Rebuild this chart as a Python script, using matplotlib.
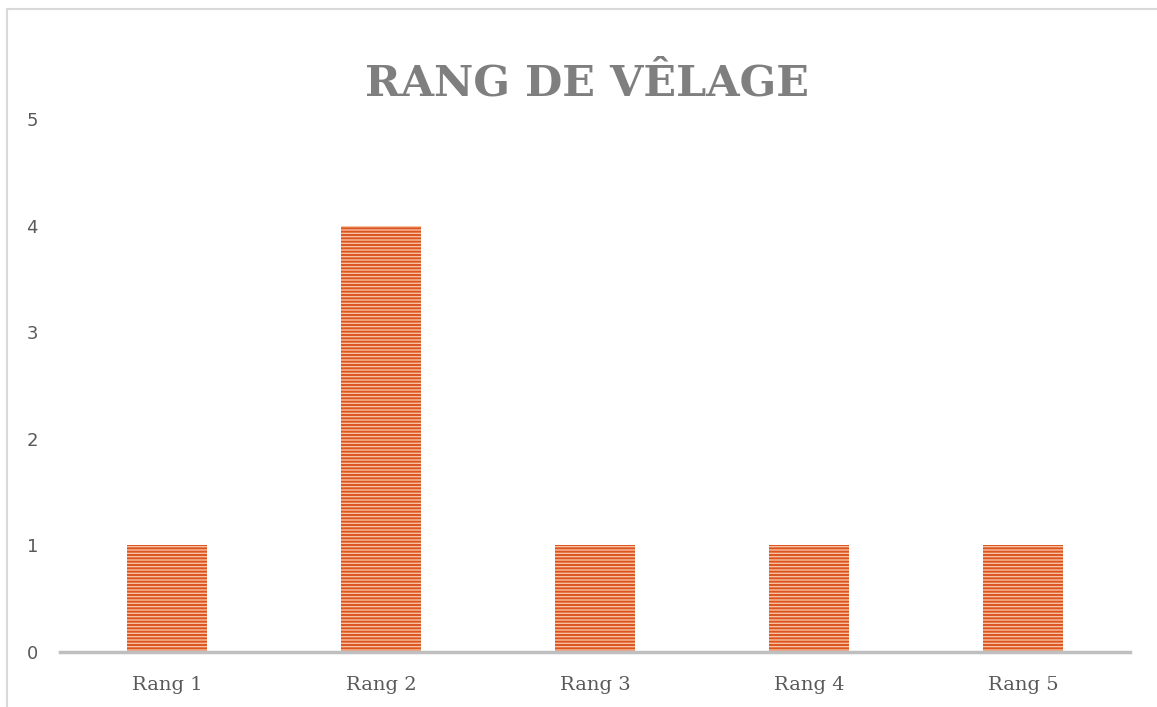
import matplotlib.pyplot as plt
from matplotlib.patches import Rectangle

categories = ['Rang 1', 'Rang 2', 'Rang 3', 'Rang 4', 'Rang 5']
values = [1, 4, 1, 1, 1]
yticks = [0, 1, 2, 3, 4, 5]

plt.rcParams['hatch.linewidth'] = 1.4

fig = plt.figure(figsize=(11.57, 7.07), dpi=100)
# frame of the chart area (light gray, left and top visible)
fig.patches.append(Rectangle((7 / 1157, -0.01), 1.1, 1 - 9 / 707 + 0.01,
                             transform=fig.transFigure, fill=False,
                             edgecolor='#d9d9d9', linewidth=1.5))

ax = fig.add_axes([60 / 1157, 55 / 707, 1070 / 1157, 533 / 707])
x = range(len(categories))
ax.bar(x, values, width=0.375, color='#f7c0a0', edgecolor='#dc5520',
       linewidth=0, hatch='-----', zorder=2)

ax.set_xlim(-0.5, len(categories) - 0.5)
ax.set_ylim(0, 5)
ax.set_yticks(yticks)
ax.set_xticks(list(x))
ax.set_xticklabels(categories, family='DejaVu Serif', fontsize=14, color='#595959')
ax.set_yticklabels([str(t) for t in yticks], family='DejaVu Sans', fontsize=13, color='#595959')
ax.tick_params(axis='both', length=0)
ax.tick_params(axis='x', pad=17)
ax.tick_params(axis='y', pad=20)
for lbl in ax.get_yticklabels():
    lbl.set_horizontalalignment('center')
for s in ['top', 'right', 'left']:
    ax.spines[s].set_visible(False)
ax.spines['bottom'].set_color('#bfbfbf')
ax.spines['bottom'].set_linewidth(2.5)
ax.spines['bottom'].set_zorder(3)

fig.text(0.507, 1 - 84 / 707, 'RANG DE VÊLAGE', ha='center', va='center',
         family='DejaVu Serif', fontweight='bold', fontsize=31, color='#7f7f7f')

fig.savefig('out.png', dpi=100)
